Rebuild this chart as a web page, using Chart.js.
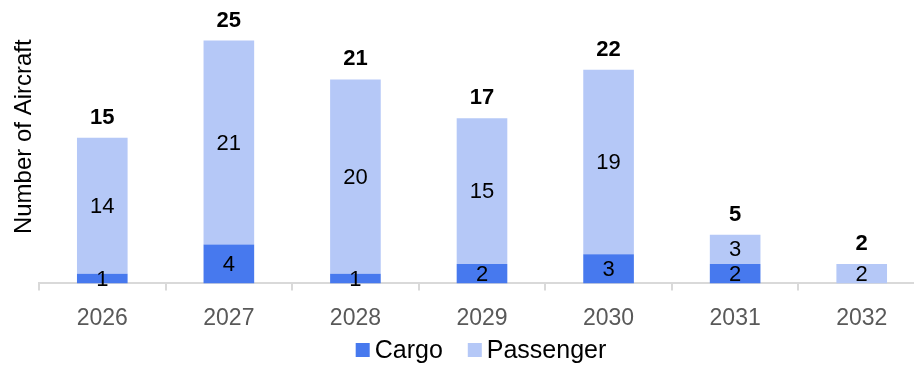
<!DOCTYPE html>
<html>
<head>
<meta charset="utf-8">
<script src="https://cdn.jsdelivr.net/npm/chart.js@4/dist/chart.umd.min.js"></script>
<style>
  html, body { margin: 0; padding: 0; background: #fff; overflow: hidden; }
  body { width: 914px; height: 365px; position: relative; }
  #fleet { position: absolute; left: 0; top: -10px; }
</style>
</head>
<body>
<canvas id="fleet" width="930" height="375"></canvas>
<script>
// Deliveries per year, split by aircraft type
const years     = ["2026", "2027", "2028", "2029", "2030", "2031", "2032"];
const cargo     = [1, 4, 1, 2, 3, 2, 0];
const passenger = [14, 21, 20, 15, 19, 3, 2];
const totals    = years.map((_, i) => cargo[i] + passenger[i]);

const FONT = "'Liberation Sans', Arial, Helvetica, sans-serif";
const COLORS = {
    cargo:     "#4779ee",
    passenger: "#b5c8f7",
    axis:      "#d9d9d9",
    tick:      "#595959",
};

// segment values inside each stack + bold totals on top
const barLabels = {
    id: "barLabels",
    afterDatasetsDraw(chart) {
        const ctx = chart.ctx;
        ctx.save();
        ctx.textAlign = "center";
        ctx.textBaseline = "middle";
        ctx.fillStyle = "#000";
        ctx.font = `22px ${FONT}`;
        chart.data.datasets.forEach((ds, i) => {
            chart.getDatasetMeta(i).data.forEach((bar, j) => {
                const v = ds.data[j];
                if (!v) return;
                ctx.fillText(String(v), bar.x, (bar.y + bar.base) / 2 + 1);
            });
        });
        ctx.font = `bold 22px ${FONT}`;
        const topBars = chart.getDatasetMeta(chart.data.datasets.length - 1).data;
        totals.forEach((t, j) => {
            ctx.fillText(String(t), topBars[j].x, topBars[j].y - 20);
        });
        ctx.restore();
    },
};

// small square-swatch legend under the axis
const swatchLegend = {
    id: "swatchLegend",
    afterDraw(chart) {
        const ctx = chart.ctx;
        const box = 14, gap = 5, spacing = 25, cx = 481, cy = 360;
        ctx.save();
        ctx.font = `25px ${FONT}`;
        ctx.textBaseline = "middle";
        ctx.textAlign = "left";
        const items = chart.data.datasets.map(ds => ({
            text: ds.label,
            color: ds.backgroundColor,
            w: box + gap + ctx.measureText(ds.label).width,
        }));
        const total = items.reduce((s, it) => s + it.w, 0) + spacing * (items.length - 1);
        let x = cx - total / 2;
        items.forEach(it => {
            ctx.fillStyle = it.color;
            ctx.fillRect(x, cy - box / 2, box, box);
            ctx.fillStyle = "#000";
            ctx.fillText(it.text, x + box + gap, cy + 1);
            x += it.w + spacing;
        });
        ctx.restore();
    },
};

new Chart(document.getElementById("fleet"), {
    type: "bar",
    data: {
        labels: years,
        datasets: [
            {
                label: "Cargo",
                data: cargo,
                backgroundColor: COLORS.cargo,
                borderWidth: 0,
                categoryPercentage: 1,
                barPercentage: 0.4,
            },
            {
                label: "Passenger",
                data: passenger,
                backgroundColor: COLORS.passenger,
                borderWidth: 0,
                categoryPercentage: 1,
                barPercentage: 0.4,
            },
        ],
    },
    options: {
        responsive: false,
        animation: false,
        layout: { padding: { left: 0, top: 0, right: 5, bottom: 19 } },
        plugins: {
            legend: { display: false },
            tooltip: { enabled: false },
        },
        scales: {
            x: {
                stacked: true,
                grid: {
                    display: true,
                    drawOnChartArea: false,
                    color: COLORS.axis,
                    lineWidth: 2,
                    tickLength: 7,
                },
                border: { color: COLORS.axis, width: 2 },
                ticks: {
                    color: COLORS.tick,
                    font: { family: FONT, size: 23 },
                    padding: 14,
                },
            },
            y: {
                stacked: true,
                min: 0,
                max: 30.2,
                grid: { display: false, drawTicks: false },
                border: { display: false },
                ticks: { display: false },
                title: {
                    display: true,
                    text: "Number of Aircraft",
                    color: "#000",
                    font: { family: FONT, size: 24 },
                    padding: { top: 10, bottom: 0.2 },
                },
            },
        },
    },
    plugins: [barLabels, swatchLegend],
});
</script>
</body>
</html>
